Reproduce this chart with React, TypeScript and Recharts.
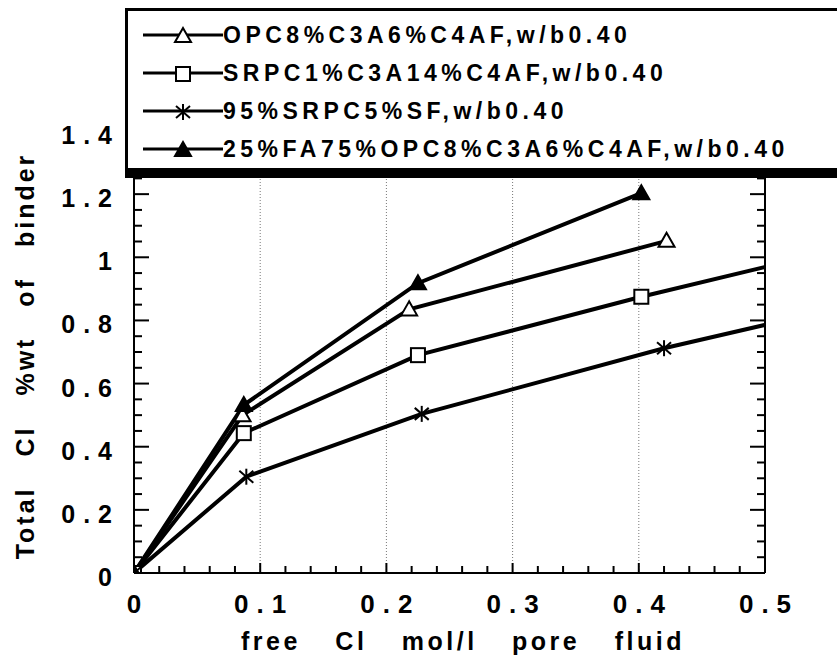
import React from 'react';
import { LineChart, Line, XAxis, YAxis, ReferenceLine } from 'recharts';

// free Cl (mol/l) vs total Cl (%wt of binder)
const opcX = [0, 0.086, 0.218, 0.422];
const opcY = [0, 0.5, 0.835, 1.052];

const srpcX = [0, 0.087, 0.225, 0.402, 0.6];
const srpcY = [0, 0.443, 0.69, 0.875, 1.065];

const sfX = [0, 0.089, 0.228, 0.42, 0.6];
const sfY = [0, 0.305, 0.504, 0.712, 0.878];

const faX = [0, 0.087, 0.225, 0.402];
const faY = [0, 0.532, 0.918, 1.203];

const seriesNames = [
  'OPC8%C3A6%C4AF,w/b0.40',
  'SRPC1%C3A14%C4AF,w/b0.40',
  '95%SRPC5%SF,w/b0.40',
  '25%FA75%OPC8%C3A6%C4AF,w/b0.40',
];

const xMajorTicks = [0, 0.1, 0.2, 0.3, 0.4, 0.5];
const xTicks = [
  0, 0.02, 0.04, 0.06, 0.08, 0.1, 0.12, 0.14, 0.16, 0.18, 0.2, 0.22, 0.24,
  0.26, 0.28, 0.3, 0.32, 0.34, 0.36, 0.38, 0.4, 0.42, 0.44, 0.46, 0.48, 0.5,
];
const yMajorTicks = [0, 0.2, 0.4, 0.6, 0.8, 1, 1.2, 1.4];
const yTicks = [
  0, 0.05, 0.1, 0.15, 0.2, 0.25, 0.3, 0.35, 0.4, 0.45, 0.5, 0.55, 0.6, 0.65,
  0.7, 0.75, 0.8, 0.85, 0.9, 0.95, 1, 1.05, 1.1, 1.15, 1.2, 1.25, 1.3, 1.35, 1.4,
];
const gridX = [0.1, 0.2, 0.3, 0.4];

const xTitle = 'free Cl mol/l pore fluid';
const yTitle = 'Total Cl %wt of binder';

const FONT = '"Liberation Sans", Arial, Helvetica, sans-serif';

type Kind = 'openTri' | 'openSquare' | 'star' | 'filledTri';

const toPoints = (xs: number[], ys: number[]) => xs.map((x, i) => ({ x, y: ys[i] }));

const series: { name: string; kind: Kind; data: { x: number; y: number }[] }[] = [
  { name: seriesNames[0], kind: 'openTri', data: toPoints(opcX, opcY) },
  { name: seriesNames[1], kind: 'openSquare', data: toPoints(srpcX, srpcY) },
  { name: seriesNames[2], kind: 'star', data: toPoints(sfX, sfY) },
  { name: seriesNames[3], kind: 'filledTri', data: toPoints(faX, faY) },
];

const isMajor = (v: number, list: number[]) => list.some((t) => Math.abs(t - v) < 1e-6);

const Marker = ({ kind, cx, cy }: { kind: Kind; cx: number; cy: number }) => {
  if (kind === 'openSquare') {
    return <rect x={cx - 7} y={cy - 7} width={14} height={14} fill="#fff" stroke="#000" strokeWidth={2} />;
  }
  if (kind === 'star') {
    return (
      <g stroke="#000" strokeWidth={2}>
        <line x1={cx} y1={cy - 8} x2={cx} y2={cy + 8} />
        <line x1={cx - 7} y1={cy - 6} x2={cx + 7} y2={cy + 6} />
        <line x1={cx - 7} y1={cy + 6} x2={cx + 7} y2={cy - 6} />
      </g>
    );
  }
  const filled = kind === 'filledTri';
  return (
    <polygon
      points={`${cx},${cy - 8} ${cx - 8},${cy + 6} ${cx + 8},${cy + 6}`}
      fill={filled ? '#000' : '#fff'}
      stroke="#000"
      strokeWidth={2}
    />
  );
};

const XTick = (props: any) => {
  const { x, y, payload } = props;
  const v = payload.value;
  const major = isMajor(v, xMajorTicks);
  return (
    <g>
      <line x1={x} x2={x} y1={y} y2={y - (major ? 10 : 7)} stroke="#000" strokeWidth={2} />
      {major && (
        <text
          x={x + 4}
          y={y + 40}
          textAnchor="middle"
          fontFamily={FONT}
          fontWeight="bold"
          fontSize={26}
          letterSpacing={8}
          fill="#000"
        >
          {String(v)}
        </text>
      )}
    </g>
  );
};

const YTick = (props: any) => {
  const { x, y, payload } = props;
  const v = payload.value;
  const major = isMajor(v, yMajorTicks);
  return (
    <g>
      <line x1={x} x2={x + (major ? 15 : 8)} y1={y} y2={y} stroke="#000" strokeWidth={2} />
      {major && (
        <text
          x={x - 22 + 8}
          y={y + 13}
          textAnchor="end"
          fontFamily={FONT}
          fontWeight="bold"
          fontSize={25}
          letterSpacing={8}
          fill="#000"
        >
          {String(v)}
        </text>
      )}
    </g>
  );
};

const RightTick = (props: any) => {
  const { x, y, payload } = props;
  const major = isMajor(payload.value, yMajorTicks);
  return <line x1={x} x2={x - (major ? 15 : 8)} y1={y} y2={y} stroke="#000" strokeWidth={2} />;
};

const LegendIcon = ({ kind }: { kind: Kind }) => (
  <svg width={80} height={24} style={{ display: 'block' }}>
    <line x1={0} y1={12} x2={80} y2={12} stroke="#000" strokeWidth={3} />
    <Marker kind={kind} cx={40} cy={13} />
  </svg>
);

const App: React.FC = () => {
  return (
    <div
      style={{
        position: 'absolute',
        left: 0,
        top: 0,
        width: 837,
        height: 655,
        overflow: 'hidden',
        background: '#fff',
      }}
    >
      <LineChart width={837} height={655} margin={{ top: 131, right: 71, bottom: 81, left: 133 }}>
        <XAxis
          type="number"
          dataKey="x"
          domain={[0, 0.5]}
          allowDataOverflow
          ticks={xTicks}
          interval={0}
          height={1}
          tickSize={0}
          tickMargin={0}
          tickLine={false}
          axisLine={{ stroke: '#000', strokeWidth: 2 }}
          tick={<XTick />}
        />
        <YAxis
          yAxisId="left"
          type="number"
          domain={[0, 1.4]}
          allowDataOverflow
          ticks={yTicks}
          interval={0}
          width={1}
          tickSize={0}
          tickMargin={0}
          tickLine={false}
          axisLine={{ stroke: '#000', strokeWidth: 2 }}
          tick={<YTick />}
        />
        <YAxis
          yAxisId="right"
          orientation="right"
          type="number"
          domain={[0, 1.4]}
          allowDataOverflow
          ticks={yTicks}
          interval={0}
          width={1}
          tickSize={0}
          tickMargin={0}
          tickLine={false}
          axisLine={{ stroke: '#000', strokeWidth: 2 }}
          tick={<RightTick />}
        />
        {gridX.map((g) => (
          <ReferenceLine
            key={`grid-${g}`}
            x={g}
            yAxisId="left"
            stroke="#777"
            strokeWidth={1}
            strokeDasharray="1 2"
          />
        ))}
        {series.map((s) => (
          <Line
            key={s.name}
            yAxisId="left"
            data={s.data}
            dataKey="y"
            name={s.name}
            type="linear"
            stroke="#000"
            strokeWidth={4}
            isAnimationActive={false}
            dot={(p: any) => <Marker key={`${s.kind}-${p.index}`} kind={s.kind} cx={p.cx} cy={p.cy} />}
            activeDot={false}
          />
        ))}
      </LineChart>

      {/* legend box overlapping the top of the plot */}
      <div
        style={{
          position: 'absolute',
          left: 125,
          top: 8,
          width: 740,
          height: 170,
          boxSizing: 'border-box',
          border: '3px solid #000',
          borderBottomWidth: 10,
          background: '#fff',
          fontFamily: FONT,
          fontWeight: 'bold',
          fontSize: 23,
          letterSpacing: 4.5,
        }}
      >
        {series.map((s, i) => (
          <div
            key={s.name}
            style={{
              position: 'absolute',
              left: 15,
              top: 12 + i * 38,
              height: 24,
              display: 'flex',
              alignItems: 'center',
              whiteSpace: 'nowrap',
            }}
          >
            <LegendIcon kind={s.kind} />
            <span style={{ lineHeight: '24px' }}>{s.name}</span>
          </div>
        ))}
      </div>

      <div
        style={{
          position: 'absolute',
          left: 163,
          top: 629,
          width: 600,
          textAlign: 'center',
          fontFamily: FONT,
          fontWeight: 'bold',
          fontSize: 25,
          lineHeight: '25px',
          letterSpacing: 3.5,
          wordSpacing: 24,
          whiteSpace: 'nowrap',
        }}
      >
        {xTitle}
      </div>
      <div
        style={{
          position: 'absolute',
          left: 25 - 250,
          top: 356 - 15,
          width: 500,
          height: 30,
          textAlign: 'center',
          fontFamily: FONT,
          fontWeight: 'bold',
          fontSize: 25,
          lineHeight: '30px',
          letterSpacing: 3,
          wordSpacing: 20,
          whiteSpace: 'nowrap',
          transform: 'rotate(-90deg)',
        }}
      >
        {yTitle}
      </div>
    </div>
  );
};

export default App;
